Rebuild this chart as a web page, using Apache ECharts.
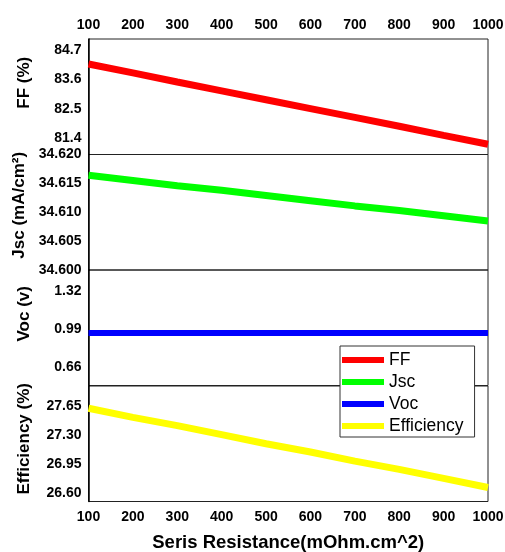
<!DOCTYPE html>
<html>
<head>
<meta charset="utf-8">
<script src="https://cdn.jsdelivr.net/npm/echarts@6/dist/echarts.min.js"></script>
<style>
  html, body { margin: 0; padding: 0; background: #fff; }
  #chart { width: 505px; height: 552px; }
</style>
</head>
<body>
<div id="chart"></div>
<script>
  // data
  var resistance = [100, 200, 300, 400, 500, 600, 700, 800, 900, 1000];
  var ff = [84.17, 83.84, 83.50, 83.17, 82.84, 82.51, 82.18, 81.85, 81.51, 81.18];
  var jsc = [34.6164, 34.6155, 34.6146, 34.6138, 34.6129, 34.6120, 34.6111, 34.6103, 34.6094, 34.6085];
  var voc = [0.955, 0.955, 0.955, 0.955, 0.955, 0.955, 0.955, 0.955, 0.955, 0.955];
  var eff = [27.63, 27.52, 27.42, 27.31, 27.20, 27.10, 26.99, 26.89, 26.78, 26.67];

  var ffTicks = [81.4, 82.5, 83.6, 84.7];
  var jscTicks = [34.600, 34.605, 34.610, 34.615, 34.620];
  var vocTicks = [0.66, 0.99, 1.32];
  var effTicks = [26.60, 26.95, 27.30, 27.65];

  var font = 'Arial, "Liberation Sans", sans-serif';
  var myChart = echarts.init(document.getElementById('chart'));

  var tops = [39, 154.5, 270, 386];
  var grids = tops.map(function (t) {
    return { left: 88.5, right: 17, top: t, height: 115.5, show: true, borderColor: '#222', borderWidth: 1, outerBoundsMode: 'none', containLabel: false };
  });

  function xAxis(i) {
    return {
      type: 'value', gridIndex: i, min: 100, max: 1000, interval: 100,
      position: i === 0 ? 'top' : 'bottom',
      axisLine: { show: false }, axisTick: { show: false }, splitLine: { show: false },
      axisLabel: {
        show: i === 0 || i === 3, margin: i === 0 ? 7 : 9, color: '#000', fontWeight: 'bold', fontSize: 14, fontFamily: font,
        formatter: function (v) { return String(v); }
      },
      name: i === 3 ? 'Seris Resistance(mOhm.cm^2)' : '',
      nameLocation: 'middle', nameGap: 32,
      nameTextStyle: { color: '#000', fontWeight: 'bold', fontSize: 18.5, fontFamily: font }
    };
  }

  function yAxis(i, name, min, max, ticks, dec, shift) {
    return {
      type: 'value', gridIndex: i, min: min, max: max,
      axisLine: { show: true, lineStyle: { color: '#000', width: 1.5 } },
      axisTick: { show: false }, splitLine: { show: false },
      axisLabel: {
        customValues: ticks, margin: 7, color: '#000', fontWeight: 'bold', fontSize: 14, fontFamily: font,
        formatter: function (v) { return v.toFixed(dec); }
      },
      name: name, nameLocation: 'middle', nameGap: 56,
      nameTextStyle: { color: '#000', fontWeight: 'bold', fontSize: 17, fontFamily: font, padding: [0, 0, 0, shift * 2] }
    };
  }

  function line(name, i, values, color, width) {
    return {
      name: name, type: 'line', xAxisIndex: i, yAxisIndex: i,
      data: resistance.map(function (x, k) { return [x, values[k]]; }),
      showSymbol: false, symbol: 'none', lineStyle: { color: color, width: width, cap: 'butt' },
      itemStyle: { color: color }
    };
  }

  var option = {
    animation: false,
    grid: grids,
    xAxis: [xAxis(0), xAxis(1), xAxis(2), xAxis(3)],
    yAxis: [
      yAxis(0, 'FF (%)', 80.8, 85.1, ffTicks, 1, 14),
      yAxis(1, 'Jsc (mA/cm²)', 34.600, 34.620, jscTicks, 3, 7),
      yAxis(2, 'Voc (v)', 0.5, 1.5, vocTicks, 2, 14),
      yAxis(3, 'Efficiency (%)', 26.5, 27.9, effTicks, 2, 5)
    ],
    legend: {
      orient: 'vertical', left: 340, top: 346,
      icon: 'rect', itemWidth: 42, itemHeight: 6, itemGap: 4, padding: [5, 11, 2, 2],
      backgroundColor: '#fff', borderColor: '#333', borderWidth: 1, borderRadius: 0,
      textStyle: { color: '#000', fontSize: 17.5, fontFamily: font, lineHeight: 17.5 },
      itemStyle: { borderWidth: 0 },
      data: ['FF', 'Jsc', 'Voc', 'Efficiency']
    },
    series: [
      line('FF', 0, ff, '#ff0000', 7),
      line('Jsc', 1, jsc, '#00ff00', 7),
      line('Voc', 2, voc, '#0000ff', 6),
      line('Efficiency', 3, eff, '#ffff00', 7)
    ]
  };

  myChart.setOption(option);
</script>
</body>
</html>
